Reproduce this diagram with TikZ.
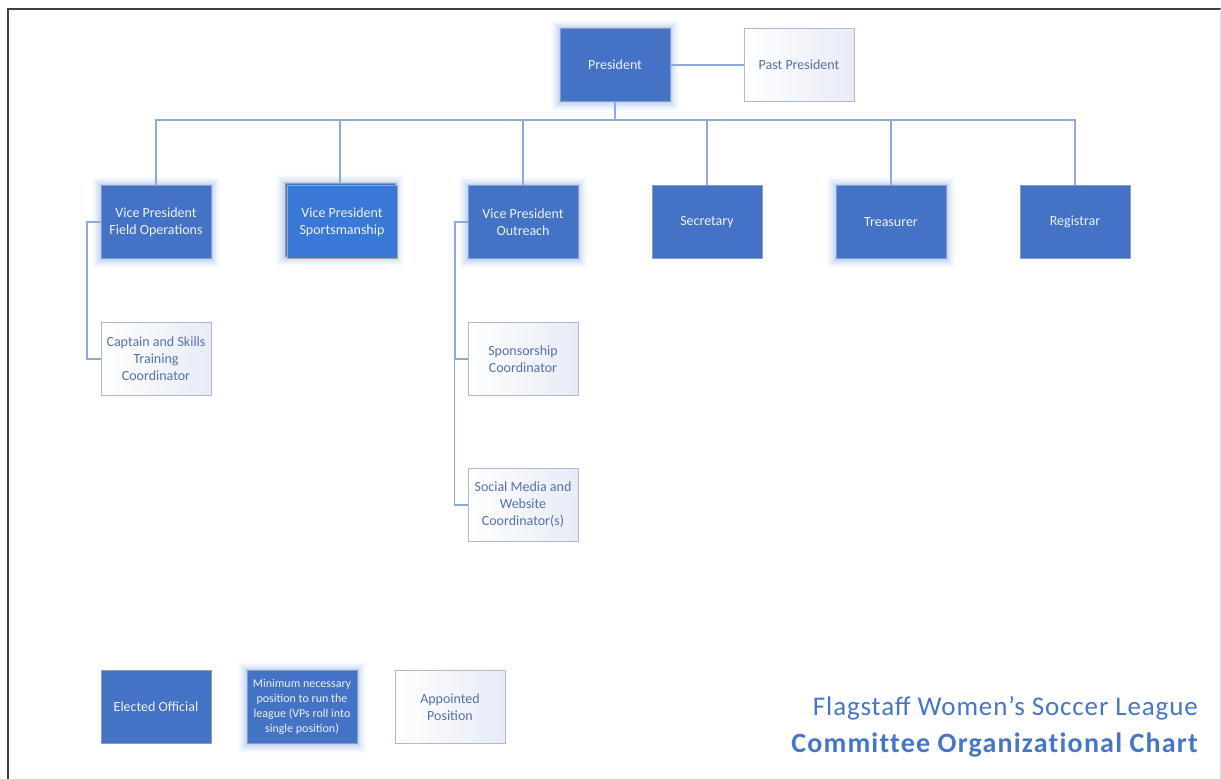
\documentclass[tikz,border=0pt]{standalone}
\usepackage{fontspec}
\setmainfont{Carlito}
\definecolor{offblue}{RGB}{68,114,196}
\definecolor{brightblue}{RGB}{58,120,216}
\definecolor{glowc}{RGB}{170,198,238}
\definecolor{linec}{RGB}{143,170,218}
\definecolor{appborder}{RGB}{172,186,214}
\definecolor{apptext}{RGB}{88,112,170}
\definecolor{appfill}{RGB}{232,235,246}
\definecolor{boxtext}{RGB}{236,241,250}
\definecolor{titlec}{RGB}{72,118,198}
\begin{document}
\begin{tikzpicture}[x=1pt,y=-1pt,
  every node/.style={inner sep=0pt, align=center, font=\fontsize{14}{17}\selectfont},
  elected/.style={minimum width=110pt, minimum height=73pt, fill=offblue, draw=offblue!80!black!60!white, line width=0.5pt, text=boxtext},
  glowbox/.style={preaction={draw=glowc, line width=18pt, opacity=0.08},
                  preaction={draw=glowc, line width=14pt, opacity=0.12},
                  preaction={draw=glowc, line width=10pt, opacity=0.18},
                  preaction={draw=glowc, line width=6pt, opacity=0.28},
                  preaction={draw=glowc, line width=3pt, opacity=0.4}},
  appointed/.style={minimum width=110pt, minimum height=73pt, draw=appborder, line width=1pt, left color=white, right color=appfill, text=apptext},
  conn/.style={draw=linec, line width=1.6pt}]
\useasboundingbox (0,0) rectangle (1221,779);
\fill[white] (0,0) rectangle (1221,779);
\draw[line width=2pt, black!75] (8,779) -- (8,9) -- (1221,9);
\draw[line width=0.6pt, black!12] (1220,9) -- (1220,779);

% top
\node[elected, glowbox] (pres) at (615,65) {President};
\node[appointed] (past) at (799,65) {Past President};

% row 2
\node[elected, glowbox] (vpf) at (156,222) {Vice President\\Field Operations};
\node[minimum width=110pt, minimum height=73pt, fill=offblue, draw=black!40, line width=0.6pt, glowbox] (vpsback) at (340,220) {};
\node[elected, fill=brightblue, draw=black!35, line width=0.6pt] (vps) at (342,222) {Vice President\\Sportsmanship};
\node[elected, glowbox] (vpo) at (523,222) {Vice President\\Outreach};
\node[elected] (sec) at (707,222) {Secretary};
\node[elected, glowbox] (tre) at (891,222) {Treasurer};
\node[elected] (reg) at (1075,222) {Registrar};

% row 3
\node[appointed] (cap) at (156,359) {Captain and Skills\\Training\\Coordinator};
\node[appointed] (spo) at (523,359) {Sponsorship\\Coordinator};
\node[appointed] (soc) at (523,505) {Social Media and\\Website\\Coordinator(s)};

% connectors
\coordinate (bus) at (615,120);
\draw[conn] (pres.east) -- (past.west);
\draw[conn] (pres.south) -- (pres.south |- bus);
\draw[conn] (vpf.north) -- (vpf.north |- bus) -- (reg.north |- bus) -- (reg.north);
\draw[conn] (vpsback.north) -- (vpsback.north |- bus);
\draw[conn] (vpo.north) -- (vpo.north |- bus);
\draw[conn] (sec.north) -- (sec.north |- bus);
\draw[conn] (tre.north) -- (tre.north |- bus);
\draw[conn] (vpf.west) -- ++(-14,0) |- (cap.west);
\draw[conn] (vpo.west) -- ++(-13,0) |- (spo.west);
\draw[conn] (spo.west) ++(-13,0) |- (soc.west);

% legend
\node[elected] (leg1) at (156,707) {Elected Official};
\node[elected, glowbox, font=\fontsize{12}{15}\selectfont] (leg2) at (302,707) {Minimum necessary\\position to run the\\league (VPs roll into\\single position)};
\node[appointed] (leg3) at (450,707) {Appointed\\Position};

% title
\node[anchor=base east, text=titlec, font=\fontsize{27}{30}\selectfont\addfontfeature{LetterSpace=3.2}] (t1) at (1198,715) {Flagstaff Women’s Soccer League};
\node[anchor=base east, text=titlec, font=\fontsize{28}{30}\selectfont\bfseries\addfontfeature{LetterSpace=4.3,Ligatures=NoCommon}] (t2) at (1198,752) {Committee Organizational Chart};
\end{tikzpicture}
\end{document}
